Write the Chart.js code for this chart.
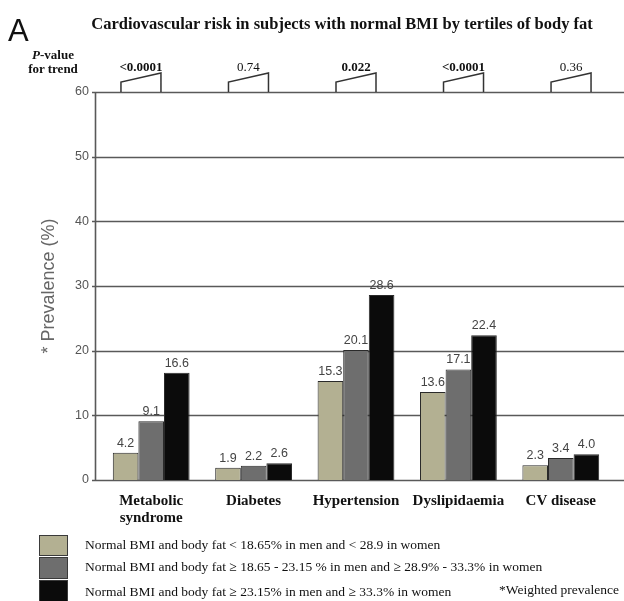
<!DOCTYPE html>
<html>
<head>
<meta charset="utf-8">
<script src="https://cdn.jsdelivr.net/npm/chart.js@4.4.1/dist/chart.umd.min.js"></script>
<style>
  html, body { margin: 0; padding: 0; background: #fff; }
  #wrap { position: relative; width: 624px; height: 601px; overflow: hidden; }
  #c { position: absolute; left: 0; top: 0; }
  .txt { position: absolute; white-space: nowrap; color: #111; }
  #panel { left: 8px; top: 13px; font: 31px "Liberation Sans", Arial, sans-serif; }
  #title { left: 342px; top: 14px; transform: translateX(-50%);
           font: bold 16.5px "Liberation Serif", "Times New Roman", serif; }
  #ptrend { left: 53px; top: 48px; transform: translateX(-50%); text-align: center;
            font: bold 13px/14px "Liberation Serif", "Times New Roman", serif; }
  .lg-row { position: absolute; left: 39px; }
  .lg-box { position: absolute; left: 0; top: 0; width: 27px; border: 1px solid #3a3a3a; }
  .lg-text { position: absolute; left: 46px; white-space: nowrap; color: #111;
             font: 13.5px "Liberation Serif", "Times New Roman", serif; }
  #note { right: 5px; top: 582px; font: 13.5px "Liberation Serif", "Times New Roman", serif; }
</style>
</head>
<body>
<div id="wrap">
  <canvas id="c" width="624" height="601"></canvas>
  <div id="panel" class="txt">A</div>
  <div id="title" class="txt">Cardiovascular risk in subjects with normal BMI by tertiles of body fat</div>
  <div id="ptrend" class="txt"><i>P</i>-value<br>for trend</div>
  <div id="legend"></div>
  <div id="note" class="txt">*Weighted prevalence</div>
</div>
<script>
// Outcomes (x categories)
const categories = [['Metabolic', 'syndrome'], 'Diabetes', 'Hypertension', 'Dyslipidaemia', 'CV disease'];

// Weighted prevalence (%) by body-fat tertile
const lowFat  = [4.2, 1.9, 15.3, 13.6, 2.3];
const midFat  = [9.1, 2.2, 20.1, 17.1, 3.4];
const highFat = [16.6, 2.6, 28.6, 22.4, 4.0];

const seriesLabels = [
  'Normal BMI and body fat < 18.65% in men and < 28.9 in women',
  'Normal BMI and body fat \u2265 18.65 - 23.15 % in men and \u2265 28.9% - 33.3% in women',
  'Normal BMI and body fat \u2265 23.15% in men and \u2265 33.3% in women'
];

// P-values for trend across tertiles
const pTrend = ['<0.0001', '0.74', '0.022', '<0.0001', '0.36'];
const pBold  = [true, false, true, true, false];

// Y axis range
const yMin = 0, yMax = 60, yStep = 10;

const colors = ['#b3b092', '#6e6e6e', '#0b0b0b'];
const seriesValues = [lowFat, midFat, highFat];

// Legend rows (swatch heights follow the printed key)
const legendRowTops = [535, 557, 580];
const legendRowHeights = [19, 20, 21];
const legend = document.getElementById('legend');
seriesLabels.forEach((lab, i) => {
  const row = document.createElement('div');
  row.className = 'lg-row';
  row.style.top = legendRowTops[i] + 'px';
  const box = document.createElement('div');
  box.className = 'lg-box';
  box.style.height = legendRowHeights[i] + 'px';
  box.style.background = colors[i];
  const t = document.createElement('div');
  t.className = 'lg-text';
  t.style.top = (legendRowHeights[i] / 2 - 8 + (i === 2 ? 1 : 0)) + 'px';
  t.textContent = lab;
  row.appendChild(box);
  row.appendChild(t);
  legend.appendChild(row);
});

// Grid, axis line and tick marks drawn across the full width
const gridPlugin = {
  id: 'gridLines',
  beforeDatasetsDraw(chart) {
    const { ctx, chartArea, scales: { y } } = chart;
    ctx.save();
    ctx.strokeStyle = '#595959';
    ctx.lineWidth = 1.6;
    const axisX = chartArea.left - 5;
    for (let v = yMin; v <= yMax; v += yStep) {
      const py = Math.round(y.getPixelForValue(v)) + 0.5;
      ctx.beginPath();
      ctx.moveTo(axisX - 3, py);
      ctx.lineTo(chart.width, py);
      ctx.stroke();
    }
    ctx.beginPath();
    ctx.moveTo(axisX + 0.5, y.getPixelForValue(yMax));
    ctx.lineTo(axisX + 0.5, y.getPixelForValue(yMin));
    ctx.stroke();
    ctx.restore();
  }
};

// Value labels above bars, p-values and trend wedges above groups
const annotPlugin = {
  id: 'annotations',
  afterDatasetsDraw(chart) {
    const { ctx, chartArea, scales: { x } } = chart;
    ctx.save();
    ctx.fillStyle = '#444';
    ctx.font = '12.5px "Liberation Sans", Arial, sans-serif';
    ctx.textAlign = 'center';
    ctx.textBaseline = 'alphabetic';
    chart.data.datasets.forEach((ds, di) => {
      chart.getDatasetMeta(di).data.forEach((bar, i) => {
        ctx.fillText(ds.data[i].toFixed(1), bar.x, bar.y - 6);
      });
    });

    const mid = (chartArea.left + chartArea.right) / 2;
    const top = chartArea.top;
    categories.forEach((c, i) => {
      const cx = mid + (x.getPixelForValue(i) - mid) * 1.05;
      ctx.fillStyle = '#111';
      ctx.font = (pBold[i] ? 'bold ' : '') + '13px "Liberation Serif", "Times New Roman", serif';
      ctx.textBaseline = 'middle';
      ctx.fillText(pTrend[i], cx, top - 24);
      ctx.strokeStyle = '#333';
      ctx.lineWidth = 1.5;
      ctx.beginPath();
      ctx.moveTo(cx - 20, top);
      ctx.lineTo(cx - 20, top - 10);
      ctx.lineTo(cx + 20, top - 19);
      ctx.lineTo(cx + 20, top);
      ctx.stroke();
    });
    ctx.restore();
  }
};

new Chart(document.getElementById('c'), {
  type: 'bar',
  data: {
    labels: categories,
    datasets: seriesValues.map((vals, i) => ({
      label: seriesLabels[i],
      data: vals,
      backgroundColor: colors[i],
      borderColor: '#2a2a2a',
      borderWidth: 1,
      categoryPercentage: 0.75,
      barPercentage: 1.0
    }))
  },
  options: {
    responsive: false,
    animation: false,
    layout: { padding: { top: 92, right: 12, bottom: 0, left: 0 } },
    plugins: { legend: { display: false }, tooltip: { enabled: false } },
    scales: {
      x: {
        grid: { display: false, drawTicks: false },
        border: { display: false },
        ticks: {
          autoSkip: false, maxRotation: 0, padding: 12, color: '#111',
          font: { family: '"Liberation Serif", "Times New Roman", serif', size: 15, weight: 'bold', lineHeight: 1.15 }
        },
        afterFit(scale) { scale.height = 121; }
      },
      y: {
        min: yMin, max: yMax,
        grid: { display: false, drawTicks: false },
        border: { display: false },
        ticks: {
          stepSize: yStep, padding: 11, color: '#555',
          font: { family: '"Liberation Sans", Arial, sans-serif', size: 12.5 }
        },
        title: {
          display: true, text: '* Prevalence (%)', color: '#666',
          font: { family: '"Liberation Sans", Arial, sans-serif', size: 18 },
          padding: { top: 38, bottom: 0 }
        },
        afterFit(scale) { scale.width = 100; }
      }
    }
  },
  plugins: [gridPlugin, annotPlugin]
});
</script>
</body>
</html>
